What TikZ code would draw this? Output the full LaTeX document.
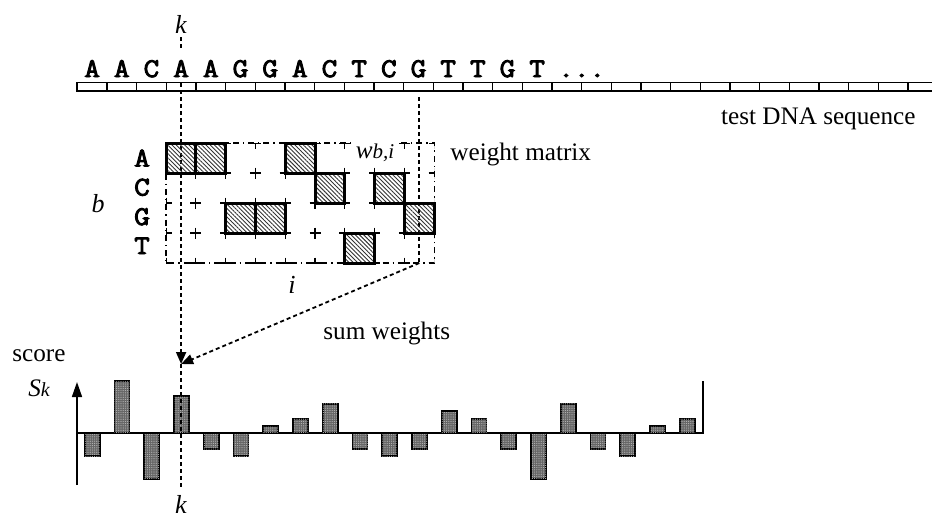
\documentclass[tikz,border=0pt]{standalone}
\usepackage{fontspec}
\setmainfont{Liberation Serif}
\newfontfamily\seqfont{Latin Modern Mono}[FakeBold=3.5,FakeStretch=1.12]
\usetikzlibrary{arrows.meta,patterns.meta}

\begin{document}
\begin{tikzpicture}[
  x=0.5pt, y=-0.5pt,
  lbl/.style={font=\fontsize{12.6}{15}\selectfont, inner sep=0},
  seqletter/.style={font=\seqfont\fontsize{13.5}{15}\selectfont, inner sep=0, anchor=base},
  var/.style={font=\itshape\fontsize{13}{15}\selectfont, inner sep=0, anchor=base},
  thinline/.style={line width=0.65pt},
  dotline/.style={line width=0.9pt, dash pattern=on 2pt off 1.5pt},
  tipdown/.style={-{Triangle[length=6pt,width=5pt]}},
  wcell/.style={draw, line width=1.5pt, minimum width=14.9pt, minimum height=15pt,
    inner sep=0, pattern={Lines[angle=-45,distance=1.5pt,line width=0.45pt]},
    pattern color=black!80},
  scorebar/.style={draw, line width=0.9pt, fill=black!60,
    postaction={pattern={Dots[distance=1.1pt,radius=0.3pt]}, pattern color=black!28}},
  axisline/.style={line width=0.8pt}
]
\useasboundingbox (0,0) rectangle (932,516);

% ---------- test sequence tape ----------
\draw[line width=0.9pt] (932,82.5) -- (77.3,82.5) -- (77.3,91) -- (932,91);
\foreach \j in {1,...,28}
  \draw[thinline] (77.3+29.67*\j,82.5) -- (77.3+29.67*\j,91);

% sequence letters
\foreach \ch [count=\i from 0] in {A,A,C,A,A,G,G,A,C,T,C,G,T,T,G,T}
  \node[seqletter] (l\i) at (92.1+29.67*\i,77) {\ch};
\node[seqletter] (ldots) at (581.7,77) {...};

\node[lbl, anchor=base east] (tdna) at (916,124) {test DNA sequence};

% ---------- weight matrix grid ----------
\draw[thinline, dashdotted] (166,143) rectangle (434.2,263);
\begin{scope}
  \clip (166,143) rectangle (434.2,263);
  \foreach \c in {0,...,9}
    \foreach \r in {0,...,4}
      \draw[thinline] (166+29.8*\c-5.5,143+30*\r) -- ++(11,0)
                      (166+29.8*\c,143+30*\r-5.5) -- ++(0,11);
\end{scope}

% position k and the last matrix column
\coordinate (kup1) at (181.1,37);
\coordinate (kup2) at (181.1,51);
\coordinate (ktape) at (181.1,83);
\coordinate (hit) at (181.1,364);
\coordinate (kend) at (181.1,490);
\coordinate (gtop) at (419.3,97);
\coordinate (gcorner) at (419.3,263);

\node[var] (ktop) at (181,33) {k};
\draw[dotline] (kup1) -- (kup2);
\draw[dotline, tipdown] (ktape) -- (hit);
\draw[dotline] (gtop) -- (gcorner);
\draw[dotline, tipdown] (gcorner) -- (hit);

% weighted cells of the matrix (column, row)
\foreach \c/\r in {0/0,1/0,4/0,5/1,7/1,2/2,3/2,8/2,6/3}
  \node[wcell] (w\c\r) at (166+29.8*\c+14.9,158+30*\r) {};

% row labels
\node[seqletter] (rA) at (142,166.5) {A};
\node[seqletter] (rC) at (142,195.5) {C};
\node[seqletter] (rG) at (142,225) {G};
\node[seqletter] (rT) at (142,254) {T};

\node[var] (bvar) at (98,212) {b};
\node[var] (ivar) at (292,293) {i};
\node[lbl, anchor=base west, fill=white, inner sep=1.5pt] (wbi) at (352.5,158)
  {\itshape w{\fontsize{10.5}{12}\selectfont b,i}};
\node[lbl, anchor=base west] (wm) at (450,160) {weight matrix};
\node[lbl, anchor=base west] (sumw) at (323,339) {sum weights};

% ---------- score plot ----------
\node[lbl, anchor=base west] (score) at (12,361) {score};
\node[lbl, anchor=base west] (sk) at (28,396) {\itshape S{\fontsize{10}{11}\selectfont k}};

\coordinate (o) at (77,433);
\coordinate (ytop) at (77,382);
\coordinate (ybot) at (77,485);
\coordinate (xend) at (703,433);
\coordinate (xtop) at (703,381);
\draw[axisline, -{Triangle[length=7.5pt,width=5pt]}] (ybot) -- (ytop);
\draw[axisline] (o) -- (xend) -- (xtop);

\foreach \h [count=\i from 0] in {-23.3,51.7,-45.7,37,-16,-23.3,7,14.3,29.3,-16,-23.3,
                                  -16,22,14.3,-16,-45.7,29.3,-16,-23.3,7,14.3}
  \draw[scorebar] (92.3+29.75*\i-7.5,433) rectangle (92.3+29.75*\i+7.5,433-\h);

\draw[dotline] (hit) -- (kend);
\node[var] (kbot) at (181,513) {k};
\end{tikzpicture}
\end{document}
